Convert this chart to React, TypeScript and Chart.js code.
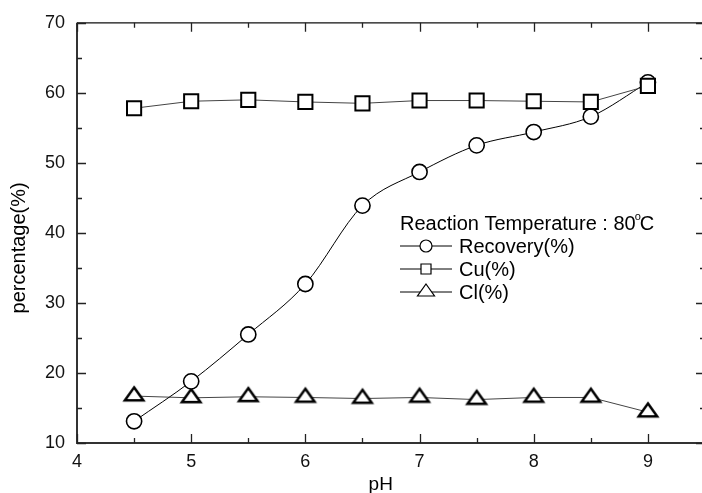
import React, { useEffect, useRef } from 'react';
import { Chart, registerables } from 'chart.js';

Chart.register(...registerables);

const phValues = [4.5, 5, 5.5, 6, 6.5, 7, 7.5, 8, 8.5, 9];
const recovery = [13.1, 18.8, 25.5, 32.7, 43.9, 48.7, 52.5, 54.4, 56.6, 61.5];
const cu = [57.8, 58.8, 59.0, 58.7, 58.5, 58.9, 58.9, 58.8, 58.7, 61.0];
const cl = [16.7, 16.45, 16.6, 16.5, 16.35, 16.5, 16.2, 16.5, 16.5, 14.4];

const xMin = 4;
const xMax = 9.5;
const yMin = 10;
const yMax = 70;
const seriesNames = ['Recovery(%)', 'Cu(%)', 'Cl(%)'];
const legendTitle = 'Reaction Temperature : 80';
const xTitle = 'pH';
const yTitle = 'percentage(%)';

const FONT = '"Liberation Sans", Arial, Helvetica, sans-serif';

function makeTriangle(w: number, h: number, lw: number): HTMLCanvasElement {
  const size = 30;
  const c = document.createElement('canvas');
  c.width = size;
  c.height = size;
  const g = c.getContext('2d')!;
  const cx = size / 2;
  const cy = size / 2;
  g.beginPath();
  g.moveTo(cx, cy - (2 * h) / 3);
  g.lineTo(cx + w / 2, cy + h / 3);
  g.lineTo(cx - w / 2, cy + h / 3);
  g.closePath();
  g.fillStyle = '#ffffff';
  g.fill();
  g.lineWidth = lw;
  g.strokeStyle = '#000000';
  g.lineJoin = 'miter';
  g.stroke();
  return c;
}

export default function App() {
  const ref = useRef<HTMLCanvasElement | null>(null);

  useEffect(() => {
    const canvas = ref.current;
    if (!canvas) return;
    const tri = makeTriangle(18.5, 13, 2.5);

    const framePlugin = {
      id: 'framePlugin',
      afterDraw(chart: any) {
        const ctx = chart.ctx as CanvasRenderingContext2D;
        const { left, right, top, bottom } = chart.chartArea;
        const xs = chart.scales.x;
        const ys = chart.scales.y;
        ctx.save();
        // frame
        ctx.strokeStyle = '#333333';
        ctx.lineWidth = 2;
        ctx.beginPath();
        ctx.moveTo(left, top);
        ctx.lineTo(left, bottom);
        ctx.lineTo(right, bottom);
        ctx.stroke();
        ctx.lineWidth = 1.3;
        ctx.strokeStyle = '#111111';
        ctx.beginPath();
        ctx.moveTo(left, top);
        ctx.lineTo(right, top);
        ctx.lineTo(right, bottom);
        ctx.stroke();
        // ticks
        ctx.lineWidth = 1.3;
        ctx.strokeStyle = '#222222';
        for (let v = xMin; v <= xMax + 1e-9; v += 0.5) {
          const px = Math.round(xs.getPixelForValue(v)) + 0.5;
          const len = Math.abs(v - Math.round(v)) < 1e-9 ? 9 : 5;
          ctx.beginPath();
          ctx.moveTo(px, bottom);
          ctx.lineTo(px, bottom - len);
          ctx.moveTo(px, top);
          ctx.lineTo(px, top + len);
          ctx.stroke();
        }
        for (let v = yMin; v <= yMax + 1e-9; v += 5) {
          const py = Math.round(ys.getPixelForValue(v)) + 0.5;
          const len = v % 10 === 0 ? 9 : 5;
          ctx.beginPath();
          ctx.moveTo(left, py);
          ctx.lineTo(left + len, py);
          ctx.moveTo(right, py);
          ctx.lineTo(right - len, py);
          ctx.stroke();
        }
        // axis titles
        ctx.fillStyle = '#000000';
        ctx.font = `19px ${FONT}`;
        ctx.textAlign = 'center';
        ctx.textBaseline = 'alphabetic';
        ctx.fillText(xTitle, xs.getPixelForValue(6.66), 490);
        ctx.save();
        ctx.translate(25, (top + bottom) / 2 + 15);
        ctx.rotate(-Math.PI / 2);
        ctx.font = `20px ${FONT}`;
        ctx.fillText(yTitle, 0, 0);
        ctx.restore();

        // legend
        const lx = 400;
        ctx.textAlign = 'left';
        ctx.font = `20px ${FONT}`;
        ctx.fillText(legendTitle, lx, 230);
        const w = ctx.measureText(legendTitle).width;
        ctx.font = `11px ${FONT}`;
        ctx.fillText('o', lx + w - 1, 220);
        ctx.font = `20px ${FONT}`;
        ctx.fillText('C', lx + w + 4, 230);

        const rows = [253, 276, 299];
        rows.forEach((by, i) => {
          const my = by - 7;
          ctx.strokeStyle = '#000000';
          ctx.lineWidth = 1;
          ctx.beginPath();
          ctx.moveTo(lx, my);
          ctx.lineTo(lx + 52, my);
          ctx.stroke();
          const mx = lx + 26;
          ctx.fillStyle = '#ffffff';
          ctx.lineWidth = 1.2;
          ctx.beginPath();
          if (i === 0) {
            ctx.arc(mx, my, 6, 0, Math.PI * 2);
          } else if (i === 1) {
            ctx.rect(mx - 5, my - 5, 10, 10);
          } else {
            ctx.moveTo(mx, my - 8);
            ctx.lineTo(mx + 8.5, my + 4);
            ctx.lineTo(mx - 8.5, my + 4);
            ctx.closePath();
          }
          ctx.fill();
          ctx.stroke();
          ctx.fillStyle = '#000000';
          ctx.fillText(seriesNames[i], lx + 59, by);
        });
        ctx.restore();
      },
    };

    const chart = new Chart(canvas, {
      type: 'line',
      data: {
        datasets: [
          {
            label: seriesNames[1],
            data: phValues.map((x, i) => ({ x, y: cu[i] })),
            borderColor: '#444444',
            borderWidth: 1,
            pointStyle: 'rect',
            pointRadius: 10,
            pointBorderWidth: 2,
            pointBorderColor: '#000000',
            pointBackgroundColor: '#ffffff',
            tension: 0,
          },
          {
            label: seriesNames[0],
            data: phValues.map((x, i) => ({ x, y: recovery[i] })),
            borderColor: '#000000',
            borderWidth: 1,
            pointStyle: 'circle',
            pointRadius: 7.6,
            pointBorderWidth: 1.6,
            pointBorderColor: '#000000',
            pointBackgroundColor: '#ffffff',
            cubicInterpolationMode: 'monotone',
          },
          {
            label: seriesNames[2],
            data: phValues.map((x, i) => ({ x, y: cl[i] })),
            borderColor: '#444444',
            borderWidth: 1,
            pointStyle: tri,
            pointRadius: 10,
            tension: 0,
          },
        ],
      },
      options: {
        animation: false,
        responsive: false,
        events: [],
        layout: { padding: { left: 0, top: 22, right: 7, bottom: 0 } },
        plugins: {
          legend: { display: false },
          tooltip: { enabled: false },
          title: { display: false },
        },
        scales: {
          x: {
            type: 'linear',
            min: xMin,
            max: xMax,
            grid: { display: false, drawTicks: false },
            border: { display: false },
            afterFit: (s: any) => {
              s.height = 50;
            },
            ticks: {
              stepSize: 0.5,
              autoSkip: false,
              maxRotation: 0,
              padding: 8,
              color: '#111111',
              font: { family: FONT, size: 18 },
              callback: (v: any) => (Math.abs(v - Math.round(v)) < 1e-9 ? String(Math.round(v)) : ''),
            },
          },
          y: {
            type: 'linear',
            min: yMin,
            max: yMax,
            grid: { display: false, drawTicks: false },
            border: { display: false },
            afterFit: (s: any) => {
              s.width = 77;
            },
            ticks: {
              stepSize: 5,
              autoSkip: false,
              padding: 12,
              color: '#111111',
              font: { family: FONT, size: 18 },
              callback: (v: any) => (Number(v) % 10 === 0 ? String(v) : ''),
            },
          },
        },
      },
      plugins: [framePlugin],
    } as any);

    return () => chart.destroy();
  }, []);

  return (
    <div
      style={{
        position: 'fixed',
        left: 0,
        top: 0,
        width: 702,
        height: 493,
        overflow: 'hidden',
        background: '#ffffff',
      }}
    >
      <canvas ref={ref} width={717} height={493} style={{ width: 717, height: 493, display: 'block' }} />
    </div>
  );
}
